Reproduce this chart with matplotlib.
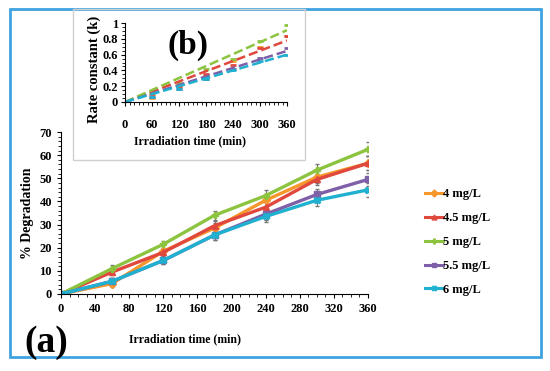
import numpy as np
import matplotlib.pyplot as plt
from matplotlib.patches import Rectangle
from matplotlib.lines import Line2D
from matplotlib.ticker import MultipleLocator

plt.rcParams['font.family'] = ['Liberation Serif', 'DejaVu Serif']
plt.rcParams['font.weight'] = 'bold'

time = [0, 60, 120, 180, 240, 300, 360]
labels = ["4 mg/L", "4.5 mg/L", "5 mg/L", "5.5 mg/L", "6 mg/L"]
colors = ["#f6962b", "#e0483e", "#8cc43f", "#7f5fa8", "#20b0d0"]
markers = ["D", "^", "P", "s", "X"]

deg_4 = [0, 4.5, 18.5, 28.5, 40.5, 50.5, 56.5]
deg_45 = [0, 9.5, 18, 29.5, 37.5, 49.5, 56.5]
deg_5 = [0, 11, 21.5, 34, 42.5, 53.5, 62.5]
deg_55 = [0, 5.5, 14.5, 25.5, 34.5, 43, 49.5]
deg_6 = [0, 5.5, 14.5, 25.5, 33.5, 40.5, 45]
err = [0.5, 1.5, 1.5, 2, 2.5, 2.5, 3]

k_4 = [0, 0.05, 0.20, 0.34, 0.52, 0.70, 0.83]
k_45 = [0, 0.10, 0.20, 0.35, 0.47, 0.68, 0.83]
k_5 = [0, 0.12, 0.24, 0.42, 0.55, 0.77, 0.98]
k_55 = [0, 0.06, 0.16, 0.29, 0.42, 0.56, 0.68]
k_6 = [0, 0.06, 0.16, 0.29, 0.41, 0.52, 0.60]

deg = [deg_4, deg_45, deg_5, deg_55, deg_6]
kvals = [k_4, k_45, k_5, k_55, k_6]

fig = plt.figure(figsize=(5.5, 3.71), dpi=100)

# frames
fig.patches.append(Rectangle((10/550, 1-357/371), 531/550, 348/371, transform=fig.transFigure,
                             fill=False, ec="#3fa2e0", lw=2))
fig.patches.append(Rectangle((73/550, 1-160/371), 232/550, 151/371, transform=fig.transFigure,
                             fill=False, ec="#d0d0d0", lw=1))

# main chart (a)
ax = fig.add_axes([61/550, 1-294/371, 307/550, 162/371])
handles = []
for y, c, m, lab in zip(deg, colors, markers, labels):
    ax.errorbar(time, y, yerr=err, color=c, marker=m, ms=4.5, lw=2.4,
                ecolor="#777777", elinewidth=0.8, capsize=1.5)
    handles.append(Line2D([], [], color=c, marker=m, ms=3.5, lw=2.2, label=lab))
ax.set_xlim(0, 360)
ax.set_ylim(0, 70)
ax.xaxis.set_major_locator(MultipleLocator(40))
ax.xaxis.set_minor_locator(MultipleLocator(10))
ax.yaxis.set_major_locator(MultipleLocator(10))
ax.yaxis.set_minor_locator(MultipleLocator(2))
for s in ["top", "right"]:
    ax.spines[s].set_visible(False)
ax.tick_params(labelsize=9, length=3, width=0.8)
ax.tick_params(which="minor", length=2)
ax.set_xlabel("Irradiation time (min)", fontsize=8.5, fontweight="bold")
ax.xaxis.set_label_coords((185-61)/307, -0.24)
ax.set_ylabel("% Degradation", fontsize=10, fontweight="bold")
for t in ax.get_xticklabels() + ax.get_yticklabels():
    t.set_fontweight("bold")
ax.legend(handles=handles, loc="center left", bbox_to_anchor=(414/550, 1-242/371),
          bbox_transform=fig.transFigure, frameon=False, fontsize=9, handlelength=1.4,
          handletextpad=0.05, labelspacing=0.95)
fig.text(46/550, 1-342/371, "(a)", fontsize=27, fontweight="bold", ha="center", va="center")

# inset (b)
ax2 = fig.add_axes([125/550, 1-102/371, 162/550, 79/371])
tx = np.array(time, dtype=float)
for y, c in zip(kvals, colors):
    ax2.plot(time, y, ls="none", marker="_", mew=2, ms=5, color=c)
for y, c in zip(kvals, colors):
    if c == colors[0]:
        continue
    yv = np.array(y)
    slope = (tx * yv).sum() / (tx * tx).sum()
    ax2.plot(tx, slope * tx, ls="--", lw=1.8, color=c)
ax2.set_xlim(0, 360)
ax2.set_ylim(0, 1)
ax2.xaxis.set_major_locator(MultipleLocator(60))
ax2.xaxis.set_minor_locator(MultipleLocator(10))
ax2.yaxis.set_major_locator(MultipleLocator(0.2))
ax2.yaxis.set_minor_locator(MultipleLocator(0.05))
ax2.set_yticks([0, 0.2, 0.4, 0.6, 0.8, 1.0], ["0", "0.2", "0.4", "0.6", "0.8", "1"])
for s in ["top", "right"]:
    ax2.spines[s].set_visible(False)
ax2.tick_params(labelsize=9, length=3, width=0.8, pad=2)
ax2.tick_params(which="minor", length=2)
ax2.tick_params(axis="x", pad=9)
for t in ax2.get_xticklabels() + ax2.get_yticklabels():
    t.set_fontweight("bold")
ax2.set_xlabel("Irradiation time (min)", fontsize=8.5, fontweight="bold")
ax2.xaxis.set_label_coords((190-125)/162, -0.42)
ax2.set_ylabel("Rate constant (k)", fontsize=10.5, fontweight="bold")
ax2.yaxis.set_label_coords(-0.15, 0.41)
fig.text(188/550, 1-45/371, "(b)", fontsize=24, fontweight="bold", ha="center", va="center")

fig.savefig("out.png", dpi=100)
